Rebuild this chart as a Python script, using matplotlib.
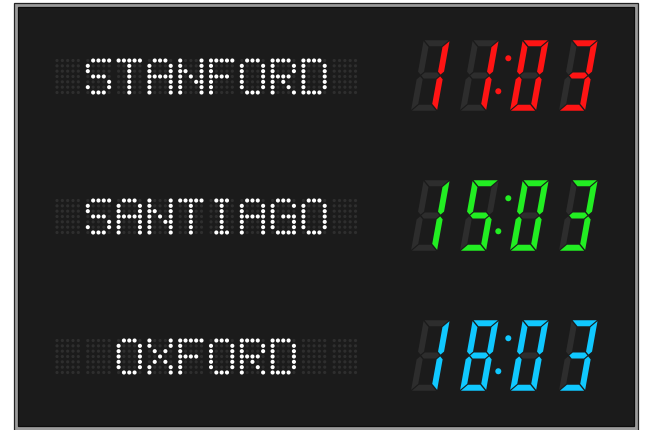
import numpy as np
import matplotlib.pyplot as plt
from matplotlib.patches import Polygon, Circle, Rectangle
from matplotlib.collections import PatchCollection

# board contents
cities = ["STANFORD", "SANTIAGO", "OXFORD"]
times = ["11:03", "15:03", "18:03"]
colors = ["#ff1414", "#22ee22", "#10c8ff"]

# 5x7 dot matrix glyphs
glyphs = {
    "S": [".####", "#....", "#....", ".###.", "....#", "#...#", ".###."],
    "T": ["#####", "..#..", "..#..", "..#..", "..#..", "..#..", "..#.."],
    "A": [".###.", "#...#", "#...#", "#####", "#...#", "#...#", "#...#"],
    "N": ["#...#", "#...#", "##..#", "#.#.#", "#..##", "#...#", "#...#"],
    "F": ["#####", "#....", "#....", "####.", "#....", "#....", "#...."],
    "O": [".###.", "#...#", "#...#", "#...#", "#...#", "#...#", ".###."],
    "R": ["####.", "#...#", "#...#", "####.", "#.#..", "#..#.", "#...#"],
    "D": ["####.", "#...#", "#...#", "#...#", "#...#", "#...#", "####."],
    "I": [".###.", "..#..", "..#..", "..#..", "..#..", "..#..", ".###."],
    "G": [".###.", "#...#", "#....", "#.###", "#...#", "#...#", ".####"],
    "X": ["#...#", "#...#", ".#.#.", "..#..", ".#.#.", "#...#", "#...#"],
}

# seven segment map
seg_on = {
    "0": "abcdef", "1": "bc", "2": "abdeg", "3": "abcdg", "4": "bcfg",
    "5": "acdfg", "6": "acdefg", "7": "abc", "8": "abcdefg", "9": "abcdfg",
}

W_PX, H_PX = 646, 431
row_y = [77.5, 217.5, 357.5]

BG = "#1b1b1b"
DIM_DOT = "#2e2e2e"
DIM_SEG = "#2d2d2d"

# matrix layout
n_cells = 10
cell_x0 = 57.0
cell_step = 30.8
pitch = 5.33

# digit layout
digit_x = [411, 460, 510, 559]
dig_w, dig_h, thick, gap = 26.0, 70.5, 6.0, 0.9
skew = 0.18


def segment_polys(W, H, t, g):
    h = t / 2
    m = H / 2
    return {
        "a": [(g, H), (W - g, H), (W - t - g, H - t), (t + g, H - t)],
        "d": [(g, 0), (W - g, 0), (W - t - g, t), (t + g, t)],
        "f": [(0, H - g), (t, H - t - g), (t, m + h + g), (h, m + g), (0, m + h + g)],
        "e": [(0, g), (t, t + g), (t, m - h - g), (h, m - g), (0, m - h - g)],
        "b": [(W, H - g), (W - t, H - t - g), (W - t, m + h + g), (W - h, m + g), (W, m + h + g)],
        "c": [(W, g), (W - t, t + g), (W - t, m - h - g), (W - h, m - g), (W, m - h - g)],
        "g": [(h + g, m), (t + g, m + h), (W - t - g, m + h), (W - h - g, m),
              (W - t - g, m - h), (t + g, m - h)],
    }


segs = segment_polys(dig_w, dig_h, thick, gap)

fig = plt.figure(figsize=(W_PX / 100, H_PX / 100), dpi=100)
ax = fig.add_axes([0, 0, 1, 1])
ax.set_xlim(0, W_PX)
ax.set_ylim(H_PX, 0)
ax.axis("off")

# frame
ax.add_patch(Rectangle((13.5, 3.5), 624.5, 440, facecolor="#9c9c9c",
                       edgecolor="#222222", lw=0.9))
ax.add_patch(Rectangle((17.5, 7.5), 616, 419.5, facecolor=BG,
                       edgecolor="#0c0c0c", lw=0.9))

dim_dots, lit_dots = [], []
polys, poly_cols = [], []

for r, (name, tm, col) in enumerate(zip(cities, times, colors)):
    cy = row_y[r]
    start = (n_cells - len(name)) // 2
    for c in range(n_cells):
        k = c - start
        ch = name[k] if 0 <= k < len(name) else None
        for i in range(7):
            for j in range(5):
                x = cell_x0 + c * cell_step + j * pitch
                y = cy + (i - 3) * pitch
                if ch is not None and glyphs[ch][i][j] == "#":
                    lit_dots.append(Circle((x, y), 2.05))
                else:
                    dim_dots.append(Circle((x, y), 1.6))

    # seven segment clock
    bottom = cy - 1 + dig_h / 2
    digits = [d for d in tm if d != ":"]
    for x0, d in zip(digit_x, digits):
        for s, pts in segs.items():
            xy = [(x0 + px + skew * py, bottom - py) for px, py in pts]
            polys.append(Polygon(xy, closed=True))
            poly_cols.append(col if s in seg_on[d] else DIM_SEG)
    # colon
    polys.append(Circle((508.3, bottom - 52.5), 3.0))
    poly_cols.append(col)
    polys.append(Circle((498.3, bottom - 19.5), 3.0))
    poly_cols.append(col)

ax.add_collection(PatchCollection(dim_dots, facecolor=DIM_DOT, edgecolor="none"))
ax.add_collection(PatchCollection(lit_dots, facecolor="#ffffff", edgecolor="none"))
ax.add_collection(PatchCollection(polys, facecolor=poly_cols, edgecolor="none"))

fig.savefig("out.png", dpi=100, facecolor="white")
